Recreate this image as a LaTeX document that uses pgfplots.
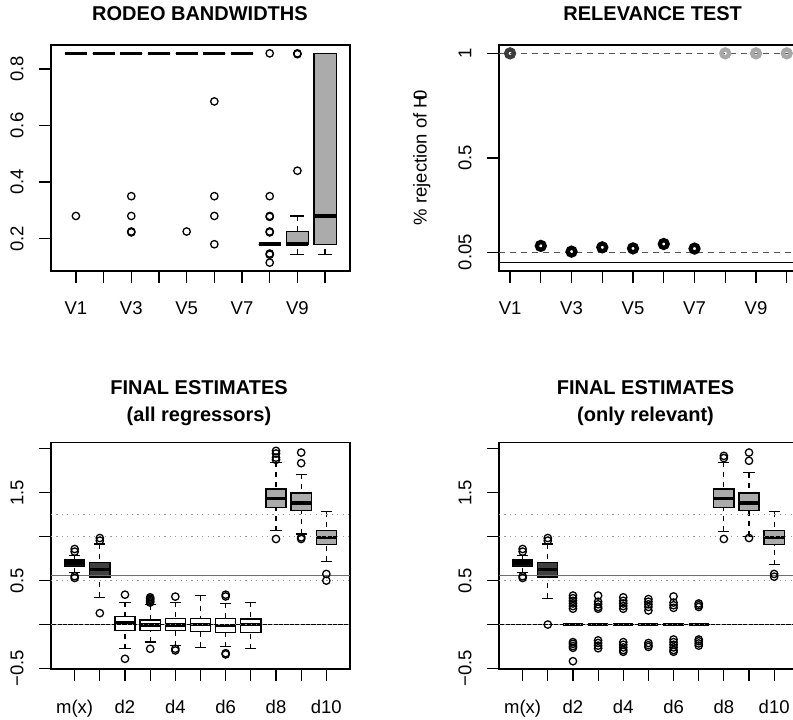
\documentclass[border=0pt]{standalone}
\usepackage{fontspec}
\setmainfont{Liberation Sans}
\usepackage{pgfplots}
\pgfplotsset{compat=1.18}
\usepgfplotslibrary{statistics}
\definecolor{bgray}{RGB}{171,171,171}
\definecolor{dk1}{RGB}{20,20,20}
\definecolor{dk2}{RGB}{64,64,64}
\definecolor{lgray}{RGB}{168,168,168}
\definecolor{lineg}{RGB}{110,110,110}
\definecolor{dotg}{RGB}{150,150,150}
\definecolor{dashg}{RGB}{85,85,85}
\definecolor{ptdk}{RGB}{60,60,60}
\newcommand{\tickfont}{\fontsize{18.5bp}{22bp}\selectfont}
\newcommand{\titlefont}{\fontsize{20bp}{24bp}\selectfont\bfseries}
\pgfplotsset{
  boxplot/draw direction=y,
  boxplot/draw/lower whisker/.code={%
    \draw[dash pattern=on 5bp off 5bp]
      (boxplot box cs:\pgfplotsboxplotvalue{lower whisker},0.5) --
      (boxplot box cs:\pgfplotsboxplotvalue{lower quartile},0.5);
    \draw (boxplot whisker cs:\pgfplotsboxplotvalue{lower whisker},0) --
      (boxplot whisker cs:\pgfplotsboxplotvalue{lower whisker},1);
  },
  boxplot/draw/upper whisker/.code={%
    \draw[dash pattern=on 5bp off 5bp]
      (boxplot box cs:\pgfplotsboxplotvalue{upper whisker},0.5) --
      (boxplot box cs:\pgfplotsboxplotvalue{upper quartile},0.5);
    \draw (boxplot whisker cs:\pgfplotsboxplotvalue{upper whisker},0) --
      (boxplot whisker cs:\pgfplotsboxplotvalue{upper whisker},1);
  },
  rbase/.style={
    scale only axis, width=299bp, height=226bp,
    axis line style={line width=1.2bp},
    tick align=outside, major tick length=12bp,
    every tick/.style={black, line width=1.2bp},
    xtick pos=bottom, ytick pos=left,
    tick label style={font=\tickfont},
    xticklabel style={anchor=base, inner sep=0pt, yshift=-32bp},
    yticklabel style={xshift=-15.7bp, rotate=90, anchor=base, inner sep=0pt},
  },
  rbox/.style={
    black, line width=1.25bp,
    boxplot/draw direction=y,
    boxplot/box extend=0.8,
    boxplot/whisker extend=0.44,
    boxplot/every box/.style={draw=black, fill=#1},
    boxplot/every median/.style={line width=3.6bp},
    mark=o, mark size=3.7bp, mark options={solid, line width=1.3bp, draw=black, fill=none},
  },
}
\begin{document}
\begin{tikzpicture}
% ---------------- Panel 1: RODEO BANDWIDTHS
\begin{axis}[rbase, at={(51bp,449bp)}, anchor=south west,
  xmin=0.1, xmax=10.9, ymin=0.0854, ymax=0.8846,
  xtick={1,...,10}, xticklabels={V1,,V3,,V5,,V7,,V9,},
  ytick={0.2,0.4,0.6,0.8}, yticklabels={0.2,0.4,0.6,0.8}]
\addplot[rbox=white, boxplot/whisker extend=0.5, boxplot prepared={draw position=1, lower whisker=0.855, lower quartile=0.855, median=0.855, upper quartile=0.855, upper whisker=0.855}] coordinates {(0,0.28)};
\addplot[rbox=white, boxplot/whisker extend=0.5, boxplot prepared={draw position=2, lower whisker=0.855, lower quartile=0.855, median=0.855, upper quartile=0.855, upper whisker=0.855}] coordinates {};
\addplot[rbox=white, boxplot/whisker extend=0.5, boxplot prepared={draw position=3, lower whisker=0.855, lower quartile=0.855, median=0.855, upper quartile=0.855, upper whisker=0.855}] coordinates {(0,0.35) (0,0.28) (0,0.225) (0,0.222)};
\addplot[rbox=white, boxplot/whisker extend=0.5, boxplot prepared={draw position=4, lower whisker=0.855, lower quartile=0.855, median=0.855, upper quartile=0.855, upper whisker=0.855}] coordinates {};
\addplot[rbox=white, boxplot/whisker extend=0.5, boxplot prepared={draw position=5, lower whisker=0.855, lower quartile=0.855, median=0.855, upper quartile=0.855, upper whisker=0.855}] coordinates {(0,0.225)};
\addplot[rbox=white, boxplot/whisker extend=0.5, boxplot prepared={draw position=6, lower whisker=0.855, lower quartile=0.855, median=0.855, upper quartile=0.855, upper whisker=0.855}] coordinates {(0,0.685) (0,0.35) (0,0.28) (0,0.18)};
\addplot[rbox=white, boxplot/whisker extend=0.5, boxplot prepared={draw position=7, lower whisker=0.855, lower quartile=0.855, median=0.855, upper quartile=0.855, upper whisker=0.855}] coordinates {};
\addplot[rbox=white, boxplot/whisker extend=0.5, boxplot prepared={draw position=8, lower whisker=0.18, lower quartile=0.18, median=0.18, upper quartile=0.18, upper whisker=0.18}] coordinates {(0,0.855) (0,0.35) (0,0.28) (0,0.277) (0,0.225) (0,0.222) (0,0.147) (0,0.143) (0,0.115)};
\addplot[rbox=bgray, boxplot/whisker extend=0.5, boxplot prepared={draw position=9, lower whisker=0.145, lower quartile=0.18, median=0.18, upper quartile=0.225, upper whisker=0.28}] coordinates {(0,0.44) (0,0.855) (0,0.852)};
\addplot[rbox=bgray, boxplot/whisker extend=0.5, boxplot prepared={draw position=10, lower whisker=0.145, lower quartile=0.18, median=0.28, upper quartile=0.855, upper whisker=0.855}] coordinates {};
\end{axis}
% ---------------- Panel 2: RELEVANCE TEST
\begin{axis}[rbase, at={(499bp,449bp)}, anchor=south west, width=298.8bp,
  xmin=0.64, xmax=10.36, ymin=-0.04, ymax=1.04,
  xtick={1,...,10}, xticklabels={V1,,V3,,V5,,V7,,V9,},
  ytick={0.05,0.5,1}, yticklabels={0.05,0.5,1},
  ylabel={\% rejection of H\kern-0.33em0},
  every axis y label/.style={at={(axis description cs:-0.242,0.5)}, rotate=90, anchor=base, font=\tickfont}]
\addplot[black, line width=1.2bp] coordinates {(0.64,0) (10.36,0)};
\addplot[only marks, mark=o, mark size=3.9bp, mark options={line width=4.3bp, draw=ptdk}] coordinates {(1,1)};
\addplot[only marks, mark=o, mark size=3.9bp, mark options={line width=4.3bp, draw=black}] coordinates {(2,0.080) (3,0.0525) (4,0.073) (5,0.068) (6,0.089) (7,0.067)};
\addplot[only marks, mark=o, mark size=3.9bp, mark options={line width=4.3bp, draw=lgray}] coordinates {(8,1) (9,1) (10,1)};
\addplot[dashg, line width=1.2bp, dash pattern=on 5.5bp off 5.5bp] coordinates {(0.64,1) (10.36,1)};
\addplot[dashg, line width=1.2bp, dash pattern=on 5.5bp off 5.5bp] coordinates {(0.64,0.05) (10.36,0.05)};
\end{axis}
% ---------------- Panel 3: FINAL ESTIMATES (all regressors)
\begin{axis}[rbase, at={(51bp,51bp)}, anchor=south west, height=226.3bp,
  xmin=0.06, xmax=11.94, ymin=-0.506, ymax=2.07,
  xtick={1,...,11}, xticklabels={m(x),,d2,,d4,,d6,,d8,,d10},
  ytick={-0.5,0,0.5,1,1.5,2}, yticklabels={−0.5,,0.5,,1.5,}]
\addplot[rbox=dk1, boxplot prepared={draw position=1, lower whisker=0.59, lower quartile=0.663, median=0.70, upper quartile=0.735, upper whisker=0.79}] coordinates {(0,0.86) (0,0.83) (0,0.55) (0,0.53)};
\addplot[rbox=dk2, boxplot prepared={draw position=2, lower whisker=0.31, lower quartile=0.54, median=0.625, upper quartile=0.708, upper whisker=0.917}] coordinates {(0,0.985) (0,0.955) (0,0.13)};
\addplot[rbox=white, boxplot prepared={draw position=3, lower whisker=-0.276, lower quartile=-0.068, median=0.015, upper quartile=0.091, upper whisker=0.254}] coordinates {(0,0.34) (0,-0.39)};
\addplot[rbox=white, boxplot prepared={draw position=4, lower whisker=-0.20, lower quartile=-0.068, median=-0.004, upper quartile=0.053, upper whisker=0.225}] coordinates {(0,0.31) (0,0.295) (0,0.28) (0,0.265) (0,0.25) (0,-0.276)};
\addplot[rbox=white, boxplot prepared={draw position=5, lower whisker=-0.24, lower quartile=-0.068, median=-0.004, upper quartile=0.072, upper whisker=0.254}] coordinates {(0,0.318) (0,-0.276) (0,-0.295)};
\addplot[rbox=white, boxplot prepared={draw position=6, lower whisker=-0.258, lower quartile=-0.075, median=0.0, upper quartile=0.072, upper whisker=0.33}] coordinates {};
\addplot[rbox=white, boxplot prepared={draw position=7, lower whisker=-0.25, lower quartile=-0.093, median=-0.01, upper quartile=0.072, upper whisker=0.243}] coordinates {(0,0.34) (0,0.32) (0,-0.326) (0,-0.34)};
\addplot[rbox=white, boxplot prepared={draw position=8, lower whisker=-0.276, lower quartile=-0.087, median=0.0, upper quartile=0.064, upper whisker=0.254}] coordinates {};
\addplot[rbox=bgray, boxplot prepared={draw position=9, lower whisker=1.068, lower quartile=1.333, median=1.435, upper quartile=1.542, upper whisker=1.845}] coordinates {(0,1.977) (0,1.947) (0,1.90) (0,1.875) (0,0.974)};
\addplot[rbox=bgray, boxplot prepared={draw position=10, lower whisker=1.03, lower quartile=1.295, median=1.383, upper quartile=1.497, upper whisker=1.71}] coordinates {(0,1.958) (0,1.837) (0,0.992) (0,0.974)};
\addplot[rbox=bgray, boxplot prepared={draw position=11, lower whisker=0.72, lower quartile=0.909, median=0.992, upper quartile=1.068, upper whisker=1.284}] coordinates {(0,0.576) (0,0.50)};
\addplot[black, line width=1.2bp] coordinates {(0.06,0) (11.94,0)};
\addplot[lineg, line width=1.3bp] coordinates {(0.06,0.56) (11.94,0.56)};
\addplot[dotg, line width=1.1bp, dash pattern=on 1.2bp off 4.2bp] coordinates {(0.06,0) (11.94,0)};
\addplot[dotg, line width=1.1bp, dash pattern=on 1.2bp off 4.2bp] coordinates {(0.06,0.5) (11.94,0.5)};
\addplot[dotg, line width=1.1bp, dash pattern=on 1.2bp off 4.2bp] coordinates {(0.06,1) (11.94,1)};
\addplot[dotg, line width=1.1bp, dash pattern=on 1.2bp off 4.2bp] coordinates {(0.06,1.25) (11.94,1.25)};
\end{axis}
% ---------------- Panel 4: FINAL ESTIMATES (only relevant)
\begin{axis}[rbase, at={(499bp,51bp)}, anchor=south west, width=298.8bp, height=226.3bp,
  xmin=0.06, xmax=11.94, ymin=-0.506, ymax=2.07,
  xtick={1,...,11}, xticklabels={m(x),,d2,,d4,,d6,,d8,,d10},
  ytick={-0.5,0,0.5,1,1.5,2}, yticklabels={−0.5,,0.5,,1.5,}]
\addplot[rbox=dk1, boxplot prepared={draw position=1, lower whisker=0.59, lower quartile=0.663, median=0.70, upper quartile=0.735, upper whisker=0.79}] coordinates {(0,0.86) (0,0.83) (0,0.55) (0,0.53)};
\addplot[rbox=dk2, boxplot prepared={draw position=2, lower whisker=0.30, lower quartile=0.54, median=0.625, upper quartile=0.708, upper whisker=0.917}] coordinates {(0,0.985) (0,0.955) (0,0.0)};
\addplot[rbox=white, boxplot prepared={draw position=3, lower whisker=0, lower quartile=0, median=0, upper quartile=0, upper whisker=0}] coordinates {(0,0.33) (0,0.30) (0,0.27) (0,0.24) (0,0.21) (0,0.18) (0,-0.20) (0,-0.22) (0,-0.245) (0,-0.265) (0,-0.417)};
\addplot[rbox=white, boxplot prepared={draw position=4, lower whisker=0, lower quartile=0, median=0, upper quartile=0, upper whisker=0}] coordinates {(0,0.33) (0,0.26) (0,0.23) (0,0.20) (0,0.18) (0,-0.18) (0,-0.21) (0,-0.24) (0,-0.27)};
\addplot[rbox=white, boxplot prepared={draw position=5, lower whisker=0, lower quartile=0, median=0, upper quartile=0, upper whisker=0}] coordinates {(0,0.31) (0,0.27) (0,0.24) (0,0.21) (0,0.18) (0,-0.20) (0,-0.23) (0,-0.26) (0,-0.29) (0,-0.31)};
\addplot[rbox=white, boxplot prepared={draw position=6, lower whisker=0, lower quartile=0, median=0, upper quartile=0, upper whisker=0}] coordinates {(0,0.29) (0,0.26) (0,0.23) (0,0.20) (0,0.16) (0,-0.21) (0,-0.235) (0,-0.255)};
\addplot[rbox=white, boxplot prepared={draw position=7, lower whisker=0, lower quartile=0, median=0, upper quartile=0, upper whisker=0}] coordinates {(0,0.32) (0,0.25) (0,0.22) (0,0.19) (0,-0.17) (0,-0.20) (0,-0.23) (0,-0.26) (0,-0.29) (0,-0.31)};
\addplot[rbox=white, boxplot prepared={draw position=8, lower whisker=0, lower quartile=0, median=0, upper quartile=0, upper whisker=0}] coordinates {(0,0.24) (0,0.22) (0,0.20) (0,-0.17) (0,-0.19) (0,-0.215) (0,-0.24)};
\addplot[rbox=bgray, boxplot prepared={draw position=9, lower whisker=1.06, lower quartile=1.333, median=1.435, upper quartile=1.542, upper whisker=1.845}] coordinates {(0,1.92) (0,1.895) (0,0.974)};
\addplot[rbox=bgray, boxplot prepared={draw position=10, lower whisker=1.005, lower quartile=1.295, median=1.383, upper quartile=1.497, upper whisker=1.73}] coordinates {(0,1.958) (0,1.864) (0,0.985)};
\addplot[rbox=bgray, boxplot prepared={draw position=11, lower whisker=0.68, lower quartile=0.909, median=0.992, upper quartile=1.068, upper whisker=1.284}] coordinates {(0,0.576) (0,0.545)};
\addplot[black, line width=1.2bp] coordinates {(0.06,0) (11.94,0)};
\addplot[lineg, line width=1.3bp] coordinates {(0.06,0.56) (11.94,0.56)};
\addplot[dotg, line width=1.1bp, dash pattern=on 1.2bp off 4.2bp] coordinates {(0.06,0) (11.94,0)};
\addplot[dotg, line width=1.1bp, dash pattern=on 1.2bp off 4.2bp] coordinates {(0.06,0.5) (11.94,0.5)};
\addplot[dotg, line width=1.1bp, dash pattern=on 1.2bp off 4.2bp] coordinates {(0.06,1) (11.94,1)};
\addplot[dotg, line width=1.1bp, dash pattern=on 1.2bp off 4.2bp] coordinates {(0.06,1.25) (11.94,1.25)};
\end{axis}
% ---------------- Titles
\node[font=\titlefont, anchor=base, inner sep=0pt] at (200bp,699.3bp) {RODEO BANDWIDTHS};
\node[font=\titlefont, anchor=base, inner sep=0pt] at (652.7bp,699.3bp) {RELEVANCE TEST};
\node[font=\titlefont, anchor=base, inner sep=0pt] at (199bp,325.7bp) {FINAL ESTIMATES};
\node[font=\titlefont, anchor=base, inner sep=0pt] at (199bp,298.3bp) {(all regressors)};
\node[font=\titlefont, anchor=base, inner sep=0pt] at (645.5bp,325.7bp) {FINAL ESTIMATES};
\node[font=\titlefont, anchor=base, inner sep=0pt] at (645.5bp,298.3bp) {(only relevant)};
\pgfresetboundingbox
\path[use as bounding box] (0,0) rectangle (793bp,720bp);
\end{tikzpicture}
\end{document}
